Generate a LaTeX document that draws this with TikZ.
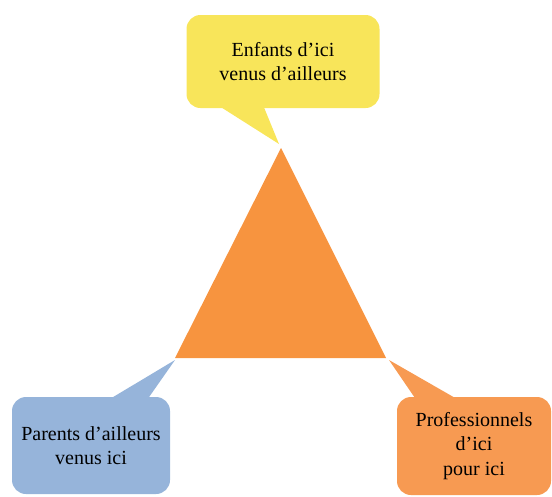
\documentclass[tikz,border=0pt]{standalone}
\usepackage{fontspec}
\setmainfont{Liberation Serif}
\usetikzlibrary{calc}
\definecolor{bubbleyellow}{HTML}{F8E55A}
\definecolor{bubbleblue}{HTML}{96B4DA}
\definecolor{bubbleorange}{HTML}{F79A52}
\definecolor{triorange}{HTML}{F7943F}
\begin{document}
\begin{tikzpicture}[x=1pt, y=-1pt, bubble/.style={rectangle,rounded corners=14pt,align=center,inner sep=0pt,font=\fontsize{20}{24.5}\selectfont}]
\useasboundingbox (0,0) rectangle (552,496);
% triangle corners
\coordinate (top) at (281,148);
\coordinate (left) at (175,358);
\coordinate (right) at (386,358);
\fill[triorange] (top) -- (right) -- (left) -- cycle;
\begin{scope}[every node/.style={bubble}]
\node [fill=bubbleyellow,minimum width=193pt,minimum height=93pt](kids) at (283,61.5) {Enfants d'ici\\venus d'ailleurs};
\node [fill=bubbleblue,minimum width=158pt,minimum height=97pt](parents) at (91,445.5) {Parents d'ailleurs\\venus ici};
\node [fill=bubbleorange,minimum width=154pt,minimum height=98pt](pros) at (474,446) {Professionnels\\d'ici\\pour ici};
\end{scope}
% tails of the bubbles
\fill[bubbleyellow] ($(kids.south west)!0.155!(kids.south east)+(0,-4)$) -- ($(kids.south west)!0.395!(kids.south east)+(0,-4)$) -- ($(top)+(-2,-4)$) -- cycle;
\fill[bubbleblue] ($(parents.north west)!0.6!(parents.north east)+(0,4)$) -- ($(parents.north west)!0.85!(parents.north east)+(0,4)$) -- ($(left)+(0,2)$) -- cycle;
\fill[bubbleorange] ($(pros.north west)!0.13!(pros.north east)+(0,4)$) -- ($(pros.north west)!0.41!(pros.north east)+(0,4)$) -- ($(right)+(3,2)$) -- cycle;
\end{tikzpicture}
\end{document}
